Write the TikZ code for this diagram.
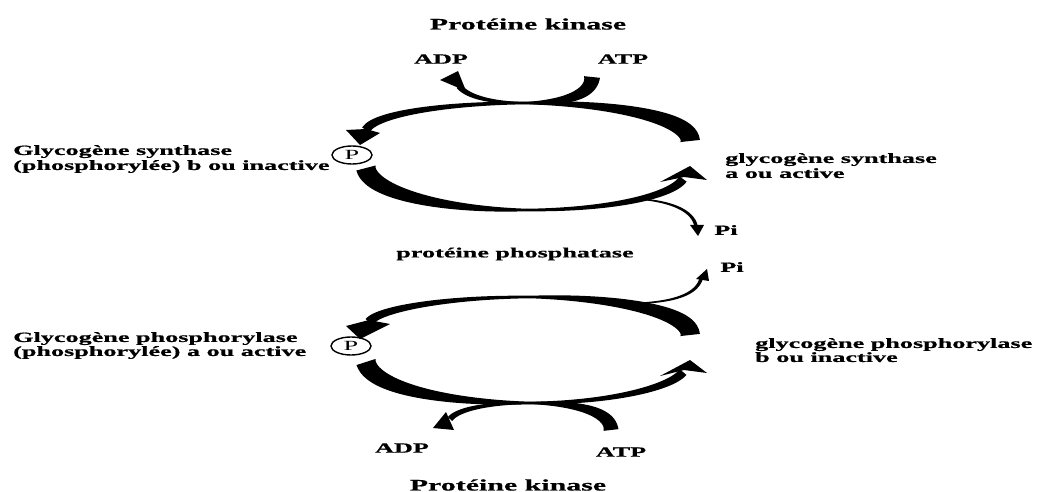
\documentclass[tikz,border=0pt]{standalone}
\usepackage{fontspec}
\setmainfont{Liberation Serif}[FakeStretch=1.87, BoldFeatures={FakeBold=0.8}]
\usetikzlibrary{calc,shapes.geometric}
\newcommand\taperseg[6]{%
  \path #1 .. controls #2 and #3 .. #4
    \foreach \k [evaluate=\k as \t using \k/30] in {0,...,30}{coordinate[pos=\t] (q\k)};
  \foreach \k [evaluate=\k as \ww using {(#5+(#6-#5)*\k/30)/2}, evaluate=\k as \kn using int(\k+1)] in {0,...,29}{%
    \coordinate (l\k) at ($(q\k)!\ww pt!90:(q\kn)$);
    \coordinate (r\k) at ($(q\k)!\ww pt!-90:(q\kn)$);
  }
  \pgfmathsetmacro\wend{#6/2}
  \coordinate (l30) at ($(q30)!\wend pt!-90:(q29)$);
  \coordinate (r30) at ($(q30)!\wend pt!90:(q29)$);
  \fill (l0) \foreach \k in {1,...,30}{-- (l\k)} \foreach \k in {30,...,0}{-- (r\k)} -- cycle;
}
\tikzset{
  lbl/.style={font=\fontsize{14}{15}\selectfont\bfseries, inner sep=0pt},
  ttl/.style={font=\fontsize{16}{18}\selectfont\bfseries, inner sep=0pt},
  ml/.style={lbl, align=left, anchor=north west},
  pc/.style={draw, ellipse, minimum width=40pt, minimum height=18pt, inner sep=0pt, line width=1.4pt, font=\fontsize{14}{14}\selectfont},
}
\begin{document}
\begin{tikzpicture}[x=1pt,y=-1pt]
\useasboundingbox (0,0) rectangle (1037,492);
\fill[white] (0,0) rectangle (1037,492);
% ---- upper cycle
\taperseg{(690,141)}{(690,118)}{(615,103)}{(527,103)}{20}{2.5}
\taperseg{(527,103)}{(445,103)}{(374,114)}{(366,130)}{2.5}{9}
\fill (346,130) -- (360,145) -- (380,133) -- (366,129) -- cycle;
\taperseg{(366,168)}{(370,192)}{(440,210)}{(527,210)}{20}{2.5}
\taperseg{(527,210)}{(610,210)}{(672,196)}{(683,179)}{2.5}{9}
\fill (660,182) -- (690,166) -- (707,180) -- (684,177) -- cycle;
% ATP -> ADP (top)
\taperseg{(592,77)}{(591,96)}{(562,103)}{(525,103)}{16}{2}
\taperseg{(525,103)}{(492,103)}{(467,97)}{(459,86)}{2}{6}
\fill (440,80) -- (458,71) -- (466,91) -- cycle;
% ---- lower cycle
\taperseg{(690,335)}{(690,312)}{(615,297)}{(530,297)}{20}{2.5}
\taperseg{(530,297)}{(447,297)}{(378,309)}{(369,322)}{2.5}{9}
\fill (346,326) -- (360,339) -- (390,324) -- (369,320) -- cycle;
\taperseg{(366,362)}{(372,388)}{(445,403)}{(530,403)}{20}{2.5}
\taperseg{(530,403)}{(612,403)}{(672,387)}{(683,372)}{2.5}{9}
\fill (660,376) -- (690,360) -- (707,373) -- (684,370) -- cycle;
% ATP -> ADP (bottom)
\taperseg{(611,430)}{(610,410)}{(572,403)}{(530,403)}{15}{2}
\taperseg{(530,403)}{(492,403)}{(459,408)}{(450,419)}{2}{6}
\fill (433,428) -- (446,412) -- (454,430) -- cycle;
% Pi branches
\taperseg{(640,199)}{(675,202)}{(693,212)}{(696,226)}{1.5}{3.5}
\fill (690,225) -- (698,236) -- (704,225) -- cycle;
\taperseg{(643,303)}{(680,301)}{(697,292)}{(701,279)}{1.5}{3.5}
\fill (696,279) -- (707,269) -- (709,281) -- cycle;
% ---- labels
\node[ttl] (pk1) at (528,24) {Protéine kinase};
\node[lbl] (adp1) at (441,59) {ADP};
\node[lbl] (atp1) at (623,59) {ATP};
\node[ml] (gs1) at (13,145) {Glycogène synthase\\(phosphorylée) b ou inactive};
\node[ml] (gs2) at (725,153) {glycogène synthase\\a ou active};
\node[pc] (p1) at (352,155) {P};
\node[lbl] (pi1) at (726,230) {Pi};
\node[lbl] (pp) at (515,254) {protéine phosphatase};
\node[lbl] (pi2) at (732,267) {Pi};
\node[ml] (gp1) at (13,332) {Glycogène phosphorylase\\[-1pt](phosphorylée) a ou active};
\node[pc] (p2) at (351,346) {P};
\node[ml] (gp2) at (755,338) {glycogène phosphorylase\\[-1pt]b ou inactive};
\node[lbl] (adp2) at (402,448) {ADP};
\node[lbl] (atp2) at (621,452) {ATP};
\node[ttl] (pk2) at (508,485) {Protéine kinase};
\end{tikzpicture}
\end{document}
